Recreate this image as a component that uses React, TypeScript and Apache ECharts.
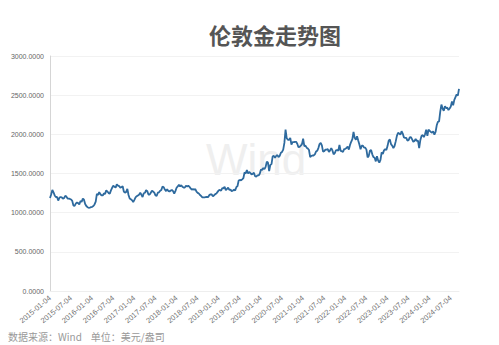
import React, { useEffect, useRef } from "react";
import * as echarts from "echarts";

// Gold price (USD/oz), sampled on the 4th, 14th and 24th of each month
const gold2015 = [1186, 1233, 1290, 1260, 1220, 1200, 1200, 1155, 1190, 1200, 1195, 1180, 1185, 1215, 1205, 1180, 1180, 1175, 1168, 1150, 1090, 1087, 1115, 1130, 1122, 1105, 1150, 1137, 1180, 1165, 1110, 1085, 1070, 1062, 1065, 1070];
const gold2016 = [1075, 1085, 1105, 1142, 1240, 1225, 1263, 1235, 1220, 1220, 1245, 1240, 1285, 1270, 1250, 1243, 1285, 1318, 1345, 1330, 1320, 1362, 1345, 1340, 1320, 1325, 1338, 1270, 1255, 1265, 1303, 1225, 1180, 1170, 1160, 1135];
const gold2017 = [1163, 1195, 1210, 1220, 1230, 1255, 1228, 1200, 1248, 1254, 1288, 1275, 1232, 1230, 1255, 1280, 1270, 1255, 1220, 1215, 1255, 1260, 1280, 1290, 1335, 1325, 1295, 1275, 1300, 1275, 1270, 1282, 1290, 1275, 1245, 1275];
const gold2018 = [1318, 1335, 1355, 1335, 1350, 1330, 1320, 1320, 1345, 1335, 1345, 1330, 1310, 1295, 1300, 1293, 1300, 1268, 1253, 1245, 1225, 1213, 1195, 1195, 1195, 1200, 1200, 1200, 1225, 1235, 1232, 1208, 1222, 1237, 1245, 1265];
const gold2019 = [1285, 1290, 1280, 1315, 1310, 1330, 1288, 1302, 1320, 1290, 1295, 1275, 1280, 1295, 1283, 1325, 1340, 1410, 1418, 1412, 1425, 1440, 1515, 1500, 1545, 1500, 1520, 1505, 1490, 1495, 1510, 1465, 1460, 1475, 1475, 1498];
const gold2020 = [1550, 1545, 1570, 1555, 1585, 1650, 1640, 1530, 1610, 1620, 1720, 1725, 1700, 1725, 1735, 1710, 1725, 1765, 1775, 1805, 1890, 2060, 1950, 1930, 1930, 1955, 1870, 1900, 1900, 1905, 1905, 1880, 1835, 1840, 1855, 1875];
const gold2021 = [1945, 1850, 1855, 1830, 1820, 1800, 1710, 1725, 1730, 1730, 1745, 1780, 1790, 1825, 1875, 1890, 1860, 1780, 1785, 1805, 1805, 1810, 1775, 1795, 1825, 1795, 1745, 1760, 1795, 1800, 1790, 1865, 1790, 1785, 1775, 1810];
const gold2022 = [1815, 1825, 1845, 1805, 1865, 1905, 1940, 2030, 1955, 1930, 1975, 1920, 1870, 1810, 1855, 1855, 1830, 1830, 1805, 1705, 1725, 1790, 1800, 1745, 1710, 1700, 1655, 1720, 1665, 1640, 1675, 1770, 1750, 1795, 1810, 1800];
const gold2023 = [1850, 1920, 1935, 1875, 1855, 1825, 1850, 1910, 1980, 2020, 2010, 1995, 2040, 2010, 1960, 1955, 1955, 1920, 1925, 1960, 1965, 1935, 1905, 1915, 1940, 1915, 1920, 1825, 1925, 1980, 1990, 1965, 2000, 2060, 1980, 2060];
const gold2024 = [2045, 2030, 2020, 2040, 1995, 2030, 2115, 2160, 2165, 2290, 2380, 2330, 2300, 2360, 2335, 2340, 2310, 2330, 2355, 2420, 2370, 2440, 2475, 2510, 2495, 2580];

const values = [...gold2015, ...gold2016, ...gold2017, ...gold2018, ...gold2019, ...gold2020, ...gold2021, ...gold2022, ...gold2023, ...gold2024];

const startYear = 2015;
const sampleDays = ["04", "14", "24"];
const dates: string[] = [];
for (let i = 0; i < values.length; i++) {
  const monthIndex = Math.floor(i / 3);
  const y = startYear + Math.floor(monthIndex / 12);
  const m = (monthIndex % 12) + 1;
  dates.push(`${y}-${String(m).padStart(2, "0")}-${sampleDays[i % 3]}`);
}

const yTicks = [0, 500, 1000, 1500, 2000, 2500, 3000];

const title = "伦敦金走势图";
const footer = "数据来源：Wind    单位：美元/盎司";

export default function App() {
  const ref = useRef<HTMLDivElement>(null);
  useEffect(() => {
    if (!ref.current) return;
    const chart = echarts.init(ref.current, null, { renderer: "svg" });
    const isLabel = (_: number, v: string) => v.endsWith("-01-04") || v.endsWith("-07-04");
    chart.setOption({
      animation: false,
      backgroundColor: "#ffffff",
      textStyle: { fontFamily: "Arial, 'Liberation Sans', 'Noto Sans CJK SC', sans-serif" },
      title: {
        text: title,
        left: 270,
        top: 18,
        textAlign: "center",
        textStyle: { fontSize: 22, fontWeight: "bold", color: "#555555", fontFamily: "'Noto Sans CJK SC', sans-serif" },
      },
      graphic: [
        {
          type: "text",
          left: 206,
          top: 137,
          z: 0,
          silent: true,
          style: { text: "Wind", fontSize: 44, fontWeight: "normal", fill: "#efefef", fontFamily: "'Liberation Sans Narrow', Arial, sans-serif" },
        },
        {
          type: "text",
          left: 8,
          top: 331,
          style: { text: footer, fontSize: 10, fill: "#999999", fontFamily: "'Noto Sans CJK SC', sans-serif" },
        },
      ],
      grid: { left: 50, right: 40, top: 56, bottom: 54, containLabel: false },
      xAxis: {
        type: "category",
        data: dates,
        boundaryGap: false,
        axisLine: { show: true, lineStyle: { color: "#eeeeee" } },
        axisTick: { show: false },
        axisLabel: {
          interval: isLabel,
          rotate: 40,
          fontSize: 7.5,
          color: "#707070",
          margin: 6,
        },
        splitLine: { show: false },
      },
      yAxis: {
        type: "value",
        min: yTicks[0],
        max: yTicks[yTicks.length - 1],
        interval: 500,
        axisLine: { show: true, lineStyle: { color: "#d5d5d5" } },
        axisTick: { show: false },
        axisLabel: {
          fontSize: 7,
          color: "#666666",
          margin: 6,
          formatter: (v: number) => v.toFixed(4),
        },
        splitLine: { lineStyle: { color: "#f2f2f2" } },
      },
      series: [
        {
          type: "line",
          data: values,
          showSymbol: false,
          symbol: "none",
          z: 5,
          lineStyle: { color: "#2e6a9e", width: 1.8 },
        },
      ],
    });
    return () => chart.dispose();
  }, []);
  return <div ref={ref} style={{ position: "fixed", left: 0, top: 0, width: 499, height: 345 }} />;
}
